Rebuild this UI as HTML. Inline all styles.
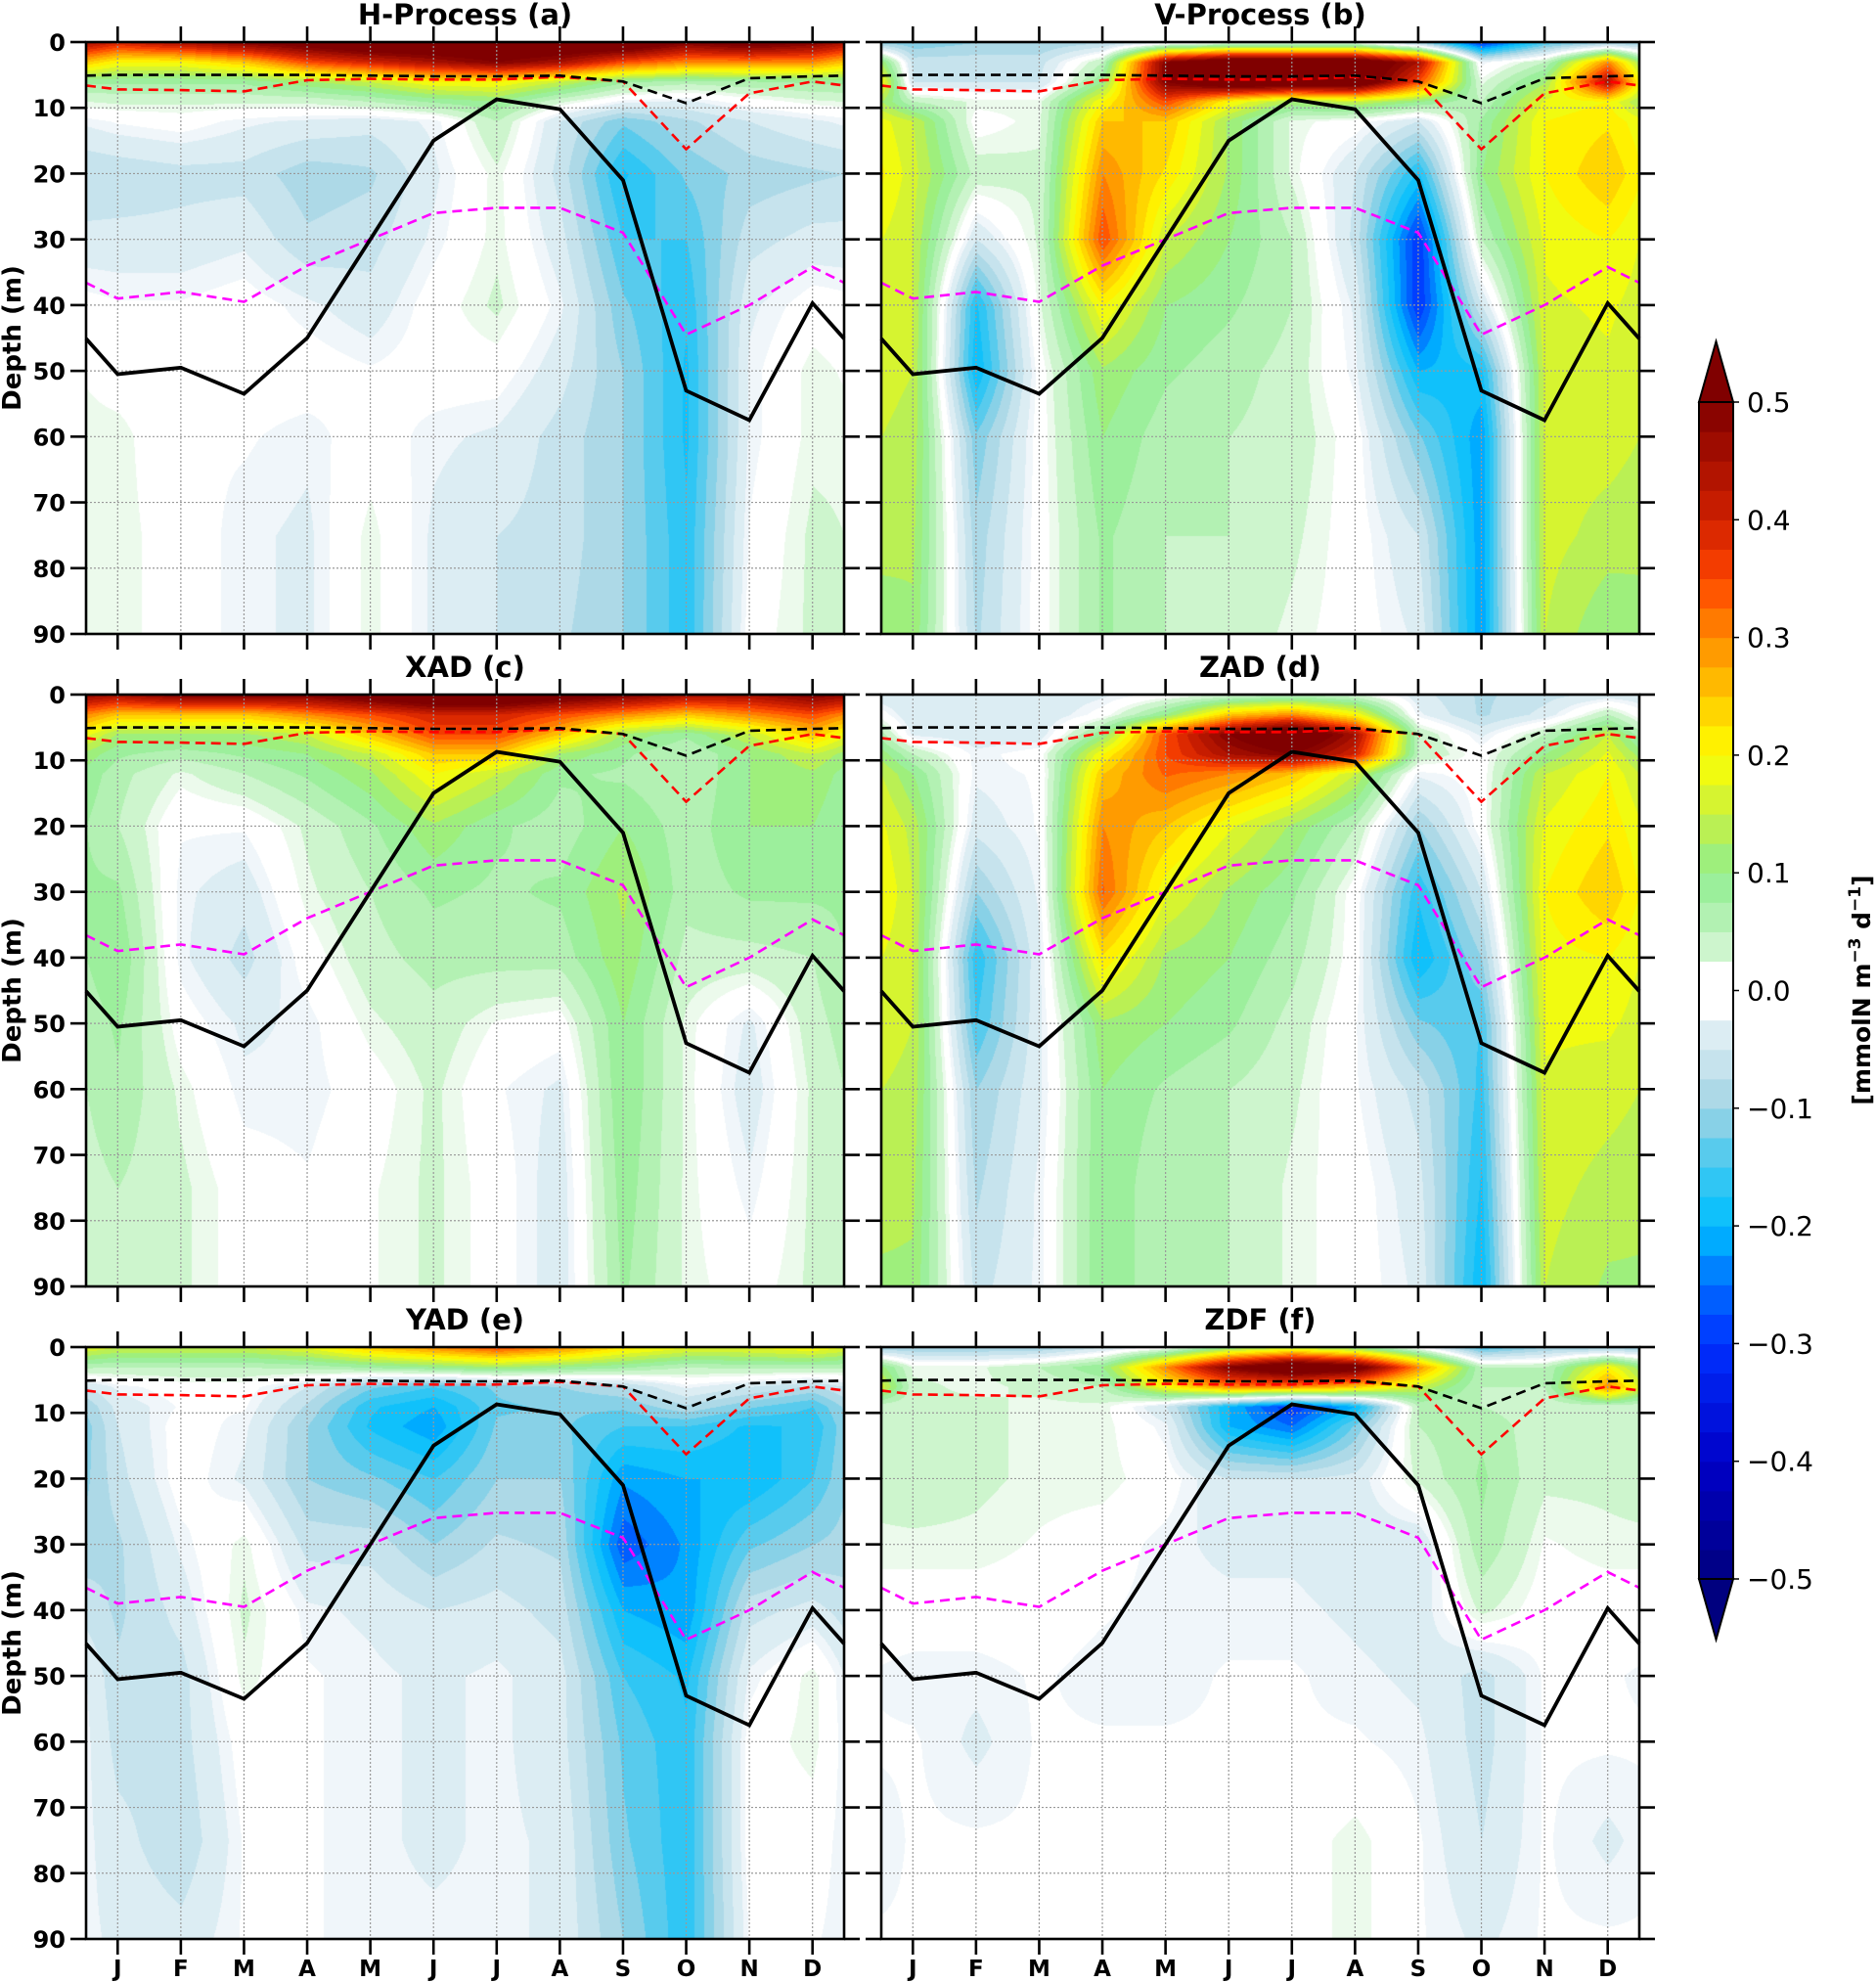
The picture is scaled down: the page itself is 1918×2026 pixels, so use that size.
<!DOCTYPE html>
<html><head><meta charset="utf-8">
<style>
html,body{margin:0;padding:0;background:#fff;}
#root{position:relative;width:1918px;height:2026px;overflow:hidden;background:#fff;}
canvas{position:absolute;}
svg{position:absolute;left:0;top:0;}
text{font-family:"DejaVu Sans","Liberation Sans",sans-serif;}
</style></head>
<body>
<div id="root">
<svg id="svg" width="1918" height="2026"></svg>
</div>
<script>
const months=['J','F','M','A','M','J','J','A','S','O','N','D'];
const depths=[0,3,6,9,12,20,30,40,50,60,75,90];
const yTicks=[0,10,20,30,40,50,60,70,80,90];
const cbTicks=[0.5,0.4,0.3,0.2,0.1,0.0,-0.1,-0.2,-0.3,-0.4,-0.5];
const mldSolid=[50.5,49.5,53.5,45,30,15,8.7,10.2,21,53,57.5,39.7];
const isoMagenta=[39,38,39.5,34,30,26,25.2,25.2,29,44.5,40,34.2];
const lineRed=[7.2,7.3,7.5,5.8,5.6,5.7,5.7,5.3,6,16.3,7.8,6];
const lineBlack=[5.0,5,5,5,5.1,5.2,5.2,5.1,6,9.3,5.5,5.2];
const titles=['H-Process (a)','V-Process (b)','XAD (c)','ZAD (d)','YAD (e)','ZDF (f)'];
const gridA=[
[0.4,0.45,0.5,0.55,0.6,0.6,0.6,0.6,0.6,0.5,0.55,0.5],
[0.2,0.2,0.25,0.35,0.4,0.45,0.5,0.45,0.35,0.3,0.3,0.3],
[0.08,0.08,0.08,0.12,0.15,0.2,0.2,0.15,0.08,0.06,0.07,0.08],
[0.03,0.03,0.03,0.03,0.05,0.08,0.1,0.03,-0.02,-0.03,0.0,0.02],
[-0.01,0,-0.02,-0.03,-0.04,-0.02,0.05,-0.05,-0.12,-0.08,-0.05,-0.03],
[-0.07,-0.06,-0.06,-0.09,-0.08,-0.03,0.02,-0.06,-0.18,-0.12,-0.09,-0.08],
[-0.04,-0.04,-0.03,-0.07,-0.06,-0.02,0.02,-0.04,-0.15,-0.15,-0.06,-0.04],
[-0.01,-0.01,0,-0.02,-0.04,0,0.03,-0.02,-0.12,-0.17,-0.03,0],
[0,0,0,0,-0.01,0,0,-0.04,-0.1,-0.18,-0.02,0.02],
[0.02,-0.01,-0.01,-0.02,0,-0.02,-0.03,-0.06,-0.1,-0.18,-0.02,0.02],
[0.02,0,-0.02,-0.03,0.02,-0.03,-0.05,-0.06,-0.1,-0.17,-0.01,0.03],
[0.02,0,-0.02,-0.03,0.02,-0.03,-0.05,-0.07,-0.1,-0.17,0,0.03]];
const gridB=[
[-0.12,-0.1,-0.1,-0.08,-0.03,0.0,0.0,0.0,-0.1,-0.3,-0.15,-0.1],
[-0.06,-0.06,-0.06,0.05,0.5,0.6,0.6,0.6,0.45,-0.02,0.05,0.3],
[-0.05,-0.05,-0.05,0.1,0.5,0.6,0.6,0.6,0.35,0.02,0.12,0.45],
[0.05,0.02,0.02,0.2,0.35,0.2,0.12,0.15,0.1,0.05,0.18,0.2],
[0.15,0.0,0.02,0.25,0.25,0.12,0.02,0.0,-0.05,0.08,0.2,0.22],
[0.16,0.04,0.03,0.3,0.22,0.12,0.02,-0.05,-0.18,0.1,0.2,0.25],
[0.15,-0.05,0.03,0.35,0.15,0.1,0.05,-0.06,-0.3,0.05,0.18,0.2],
[0.15,-0.18,0.02,0.2,0.1,0.08,0.05,-0.03,-0.3,-0.05,0.17,0.18],
[0.15,-0.2,0.0,0.12,0.08,0.06,0.04,-0.02,-0.2,-0.18,0.16,0.17],
[0.14,-0.12,0.0,0.1,0.06,0.05,0.04,0,-0.12,-0.22,0.16,0.16],
[0.13,-0.09,0.0,0.08,0.05,0.05,0.03,0.0,-0.05,-0.22,0.16,0.14],
[0.12,-0.08,0.0,0.08,0.05,0.04,0.02,0.0,-0.03,-0.22,0.15,0.1]];
const gridC=[
[0.45,0.5,0.5,0.5,0.55,0.6,0.6,0.55,0.5,0.45,0.45,0.5],
[0.25,0.25,0.25,0.3,0.35,0.4,0.4,0.35,0.3,0.25,0.3,0.35],
[0.12,0.12,0.12,0.15,0.25,0.35,0.35,0.25,0.12,0.08,0.15,0.25],
[0.08,0.06,0.08,0.1,0.15,0.25,0.25,0.12,0.08,0.05,0.1,0.15],
[0.06,0.02,0.05,0.08,0.12,0.2,0.15,0.08,0.07,0.05,0.1,0.12],
[0.05,-0.01,-0.01,0.03,0.07,0.12,0.08,0.06,0.1,0.06,0.1,0.1],
[0.08,-0.02,-0.04,0.02,0.05,0.08,0.07,0.08,0.13,0.06,0.08,0.08],
[0.1,-0.02,-0.06,0.0,0.04,0.06,0.06,0.06,0.12,0.04,0.04,0.05],
[0.08,0,-0.03,-0.02,0.02,0.04,0.01,0.0,0.1,0.02,-0.03,0.04],
[0.07,0.02,-0.02,-0.02,0.0,0.03,-0.01,-0.03,0.1,0.02,-0.04,0.03],
[0.05,0.03,0,-0.01,0.01,0.03,0.0,-0.04,0.09,0.02,-0.02,0.03],
[0.04,0.03,0,0,0.01,0.03,0.0,-0.04,0.08,0.02,0,0.03]];
const gridD=[
[-0.05,-0.05,-0.05,-0.03,0,0.03,0.05,0.03,-0.04,-0.08,-0.06,-0.04],
[-0.05,-0.05,-0.05,0,0.1,0.25,0.3,0.2,-0.02,-0.08,-0.04,0.05],
[-0.03,-0.04,-0.04,0.1,0.35,0.5,0.6,0.45,0.05,-0.03,0.05,0.15],
[0.05,-0.02,0.0,0.2,0.35,0.45,0.5,0.4,0.05,0,0.1,0.18],
[0.1,-0.02,-0.01,0.25,0.33,0.3,0.25,0.15,-0.02,0.0,0.15,0.2],
[0.14,-0.04,-0.01,0.3,0.25,0.18,0.12,0.05,-0.1,0.0,0.18,0.22],
[0.15,-0.1,-0.02,0.33,0.18,0.12,0.08,0.0,-0.17,-0.05,0.2,0.25],
[0.15,-0.17,-0.03,0.22,0.12,0.1,0.06,0.0,-0.2,-0.1,0.19,0.2],
[0.15,-0.15,-0.03,0.12,0.1,0.08,0.04,-0.01,-0.12,-0.15,0.18,0.18],
[0.14,-0.1,-0.03,0.1,0.07,0.05,0.03,-0.01,-0.06,-0.16,0.17,0.16],
[0.13,-0.08,-0.02,0.1,0.05,0.05,0.02,0,-0.04,-0.18,0.16,0.14],
[0.12,-0.06,-0.02,0.1,0.05,0.05,0.02,0,-0.03,-0.2,0.15,0.12]];
const gridE=[
[0.15,0.15,0.15,0.18,0.25,0.3,0.35,0.3,0.22,0.18,0.18,0.2],
[0.05,0.05,0.05,0.06,0.08,0.1,0.12,0.1,0.08,0.05,0.06,0.06],
[-0.02,0,0,-0.05,-0.12,-0.15,-0.12,-0.1,-0.08,-0.02,-0.05,-0.08],
[-0.04,-0.01,-0.01,-0.08,-0.17,-0.2,-0.13,-0.12,-0.12,-0.08,-0.12,-0.15],
[-0.05,0,-0.02,-0.1,-0.18,-0.22,-0.12,-0.12,-0.15,-0.15,-0.18,-0.17],
[-0.06,0,-0.03,-0.1,-0.12,-0.15,-0.1,-0.1,-0.22,-0.2,-0.2,-0.15],
[-0.08,-0.02,0.02,-0.06,-0.06,-0.1,-0.07,-0.08,-0.27,-0.22,-0.13,-0.1],
[-0.08,-0.04,0.03,-0.02,-0.03,-0.05,-0.04,-0.06,-0.2,-0.22,-0.06,-0.04],
[-0.07,-0.06,0.02,-0.01,-0.02,-0.03,-0.02,-0.04,-0.15,-0.18,-0.02,0.02],
[-0.06,-0.06,0,-0.01,-0.02,-0.03,-0.02,-0.04,-0.13,-0.17,0,0.02],
[-0.04,-0.07,-0.01,-0.01,-0.02,-0.03,-0.02,-0.03,-0.12,-0.17,0,0],
[-0.03,-0.04,-0.01,-0.01,-0.02,-0.02,-0.02,-0.03,-0.1,-0.17,-0.01,-0.01]];
const gridF=[
[-0.1,-0.1,-0.1,-0.05,0,0.1,0.15,0.1,0,-0.15,-0.1,-0.1],
[0.02,0.02,0.05,0.1,0.3,0.5,0.6,0.55,0.3,0.05,0.05,0.2],
[0.03,0.02,0.03,0.05,0.2,0.3,0.3,0.25,0.15,0.05,0.05,0.3],
[0.03,0.03,0.02,0.02,-0.05,-0.2,-0.3,-0.2,0.05,0.05,0.03,0.03],
[0.03,0.03,0.02,0.02,-0.02,-0.2,-0.25,-0.12,0.05,0.07,0.03,0.03],
[0.04,0.03,0.02,0.02,0,-0.05,-0.05,-0.04,0.03,0.08,0.03,0.03],
[0.02,0.02,0.01,0,-0.02,-0.03,-0.03,-0.04,-0.05,0.07,0.01,0.02],
[0,0,0,-0.01,-0.02,-0.02,-0.02,-0.03,-0.04,0.03,0,0],
[-0.02,-0.02,-0.01,-0.02,-0.02,-0.01,-0.01,-0.02,-0.03,-0.06,-0.01,-0.01],
[-0.01,-0.03,-0.01,-0.01,-0.01,-0.01,-0.01,-0.01,-0.02,-0.06,-0.01,-0.01],
[-0.01,-0.01,-0.01,-0.01,-0.01,-0.01,0,0.02,-0.01,-0.05,-0.01,-0.03],
[-0.01,-0.01,-0.01,-0.01,-0.01,0,0,0.02,-0.01,-0.03,-0.01,-0.01]];
const grids=[gridA,gridB,gridC,gridD,gridE,gridF];

const stops=[[-0.5,[0,0,127]],[-0.4,[0,0,200]],[-0.3,[0,48,255]],[-0.25,[0,110,255]],[-0.2,[0,191,255]],[-0.15,[64,200,240]],[-0.1,[160,212,228]],[-0.05,[210,232,240]],[-0.0125,[240,246,250]],[0,[255,255,255]],[0.0125,[236,250,236]],[0.05,[190,242,190]],[0.1,[144,238,144]],[0.15,[200,240,64]],[0.2,[255,255,0]],[0.25,[255,200,0]],[0.3,[255,140,0]],[0.35,[255,69,0]],[0.4,[208,32,0]],[0.5,[128,0,0]]];
function cmap(v){
  if(v<=stops[0][0])return stops[0][1];
  for(let i=1;i<stops.length;i++){if(v<=stops[i][0]){const a=stops[i-1],b=stops[i];const t=(v-a[0])/(b[0]-a[0]);return a[1].map((c,k)=>Math.round(c+(b[1][k]-c)*t));}}
  return stops[stops.length-1][1];
}
function levelColor(v){let idx=Math.floor(v/0.025);let mid=(idx+0.5)*0.025;if(Math.abs(v)<0.0125)mid=0;mid=Math.max(-0.51,Math.min(0.51,mid));return cmap(mid);}

const PX=[88,901],PY=[43,710,1377],PW=775,PH=605;
const NS='http://www.w3.org/2000/svg';
const svg=document.getElementById('svg');
function el(tag,attrs,parent){const e=document.createElementNS(NS,tag);for(const k in attrs)e.setAttribute(k,attrs[k]);(parent||svg).appendChild(e);return e;}
function colX(j){return (j+0.5)/12;}
function extRow(row){const e=(row[0]+row[11])/2;return [e].concat(row,[e]);}
const extX=[0].concat(months.map((m,j)=>colX(j)),[1]);
function sample(grid,fx,d){
  let j=0;while(j<extX.length-2&&fx>extX[j+1])j++;
  const tx=(fx-extX[j])/(extX[j+1]-extX[j]);
  let i=0;while(i<depths.length-2&&d>depths[i+1])i++;
  const ty=Math.max(0,Math.min(1,(d-depths[i])/(depths[i+1]-depths[i])));
  const r0=extRow(grid[i]),r1=extRow(grid[i+1]);
  const a=r0[j]+(r0[j+1]-r0[j])*tx,b=r1[j]+(r1[j+1]-r1[j])*tx;
  return a+(b-a)*ty;
}
const root=document.getElementById('root');
for(let p=0;p<6;p++){
  const ox=PX[p%2],oy=PY[Math.floor(p/2)];
  const cv=document.createElement('canvas');cv.width=PW;cv.height=PH;
  cv.style.left=ox+'px';cv.style.top=oy+'px';
  
  
  root.insertBefore(cv,svg);
  const ctx=cv.getContext('2d');const img=ctx.createImageData(PW,PH);
  for(let y=0;y<PH;y++){const d=y/PH*90;for(let x=0;x<PW;x++){const v=sample(grids[p],x/PW,d);const c=levelColor(v);const k=(y*PW+x)*4;img.data[k]=c[0];img.data[k+1]=c[1];img.data[k+2]=c[2];img.data[k+3]=255;}}
  ctx.putImageData(img,0,0);
  const g=el('g',{});
  
  
  const xs=f=>ox+f*PW, ys=d=>oy+d/90*PH;
  months.forEach((m,j)=>{el('line',{x1:xs(colX(j)),x2:xs(colX(j)),y1:oy,y2:oy+PH,stroke:'#999','stroke-width':1.2,'stroke-dasharray':'2,2'},g);});
  yTicks.forEach(t=>{el('line',{x1:ox,x2:ox+PW,y1:ys(t),y2:ys(t),stroke:'#999','stroke-width':1.2,'stroke-dasharray':'2,2'},g);});
  function poly(arr,color,w,dash,name){
    const e=(arr[0]+arr[11])/2;const vals=[e].concat(arr,[e]);
    const pts=vals.map((v,k)=>xs(extX[k]).toFixed(1)+','+ys(v).toFixed(1)).join(' ');
    const pl=el('polyline',{points:pts,fill:'none',stroke:color,'stroke-width':w,'stroke-linejoin':'miter'},g);
    if(dash)pl.setAttribute('stroke-dasharray',dash);
    
    
  }
  poly(isoMagenta,'#ff00ff',2.6,'10,6','magenta-dashed-line');
  poly(lineRed,'#ff0000',2.6,'10,6','red-dashed-line');
  poly(lineBlack,'#000',2.6,'10,6','black-dashed-line');
  poly(mldSolid,'#000',3.8,null,'mixed-layer-depth-line');
  el('rect',{x:ox,y:oy,width:PW,height:PH,fill:'none',stroke:'#000','stroke-width':2.6},g);
  months.forEach((m,j)=>{const x=xs(colX(j));el('line',{x1:x,x2:x,y1:oy,y2:oy-16,stroke:'#000','stroke-width':2.6},g);el('line',{x1:x,x2:x,y1:oy+PH,y2:oy+PH+16,stroke:'#000','stroke-width':2.6},g);
    if(p>=4){const t=el('text',{x:x,y:2020,'text-anchor':'middle','font-size':23,'font-weight':'bold'},g);t.textContent=m;}});
  yTicks.forEach(t=>{const y=ys(t);el('line',{x1:ox,x2:ox-16,y1:y,y2:y,stroke:'#000','stroke-width':2.6},g);el('line',{x1:ox+PW,x2:ox+PW+16,y1:y,y2:y,stroke:'#000','stroke-width':2.6},g);
    if(p%2===0){const tx=el('text',{x:67,y:y+9,'text-anchor':'end','font-size':24,'font-weight':'bold'},g);tx.textContent=t;}});
  const tt=el('text',{x:ox+PW/2,y:oy-18,'text-anchor':'middle','font-size':29,'font-weight':'bold'},g);tt.textContent=titles[p];
  
  if(p%2===0){const yl=el('text',{x:0,y:0,'text-anchor':'middle','font-size':26,'font-weight':'bold',transform:'translate(21,'+(oy+PH/2)+') rotate(-90)'},g);yl.textContent='Depth (m)';}
}
const CBX=1737,CBW=35,CBT=411,CBB=1614;
const cb=el('g',{});
const cy=v=>CBT+(0.5-v)/1.0*(CBB-CBT);
for(let k=0;k<40;k++){const lo=-0.5+k*0.025,hi=lo+0.025;const c=cmap(Math.abs(lo+0.0125)<0.013?0:lo+0.0125);
  el('rect',{x:CBX,y:cy(hi),width:CBW,height:cy(lo)-cy(hi)+0.6,fill:'rgb('+c.join(',')+')'},cb);}
el('polygon',{points:`${CBX},${CBT} ${CBX+CBW/2},${CBT-62} ${CBX+CBW},${CBT}`,fill:'rgb(128,0,0)',stroke:'#000','stroke-width':2},cb);
el('polygon',{points:`${CBX},${CBB} ${CBX+CBW/2},${CBB+62} ${CBX+CBW},${CBB}`,fill:'rgb(0,0,127)',stroke:'#000','stroke-width':2},cb);
el('rect',{x:CBX,y:CBT,width:CBW,height:CBB-CBT,fill:'none',stroke:'#000','stroke-width':2},cb);
cbTicks.forEach(v=>{const y=cy(v);el('line',{x1:CBX+CBW,x2:CBX+CBW+6,y1:y,y2:y,stroke:'#000','stroke-width':1.5},cb);
  const t=el('text',{x:1786,y:y+10,'font-size':28},cb);t.textContent=(v<0?'\u2212':'')+Math.abs(v).toFixed(1);});
const cl=el('text',{x:0,y:0,'text-anchor':'middle','font-size':25,'font-weight':'bold',transform:'translate(1912,1012) rotate(-90)'},cb);
cl.innerHTML='[mmolN m<tspan dy="-10" font-size="17">\u22123</tspan><tspan dy="10"> d</tspan><tspan dy="-10" font-size="17">\u22121</tspan><tspan dy="10">]</tspan>';

</script>
</body></html>
